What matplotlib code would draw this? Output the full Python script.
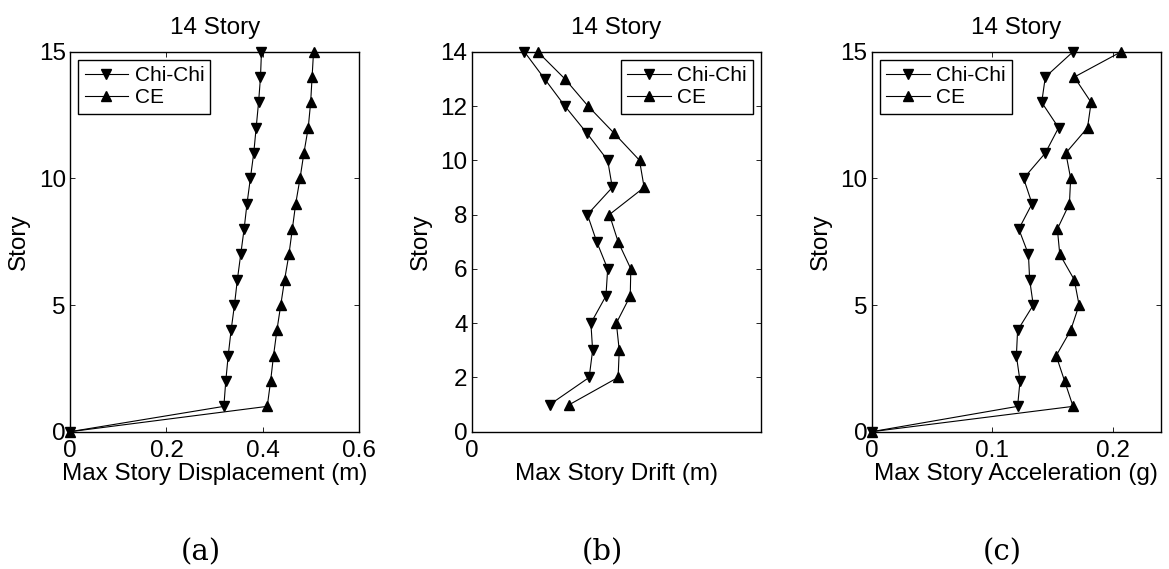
import matplotlib
matplotlib.use("Agg")
import matplotlib.pyplot as plt
from matplotlib.ticker import FuncFormatter

plt.rcParams['font.family'] = ['Liberation Sans', 'DejaVu Sans']
plt.rcParams['font.size'] = 17.5

# Story levels
stories = [0, 1, 2, 3, 4, 5, 6, 7, 8, 9, 10, 11, 12, 13, 14, 15]
drift_stories = [1, 2, 3, 4, 5, 6, 7, 8, 9, 10, 11, 12, 13, 14]

# Max story displacement (m)
disp_chichi = [0, 0.319, 0.323, 0.328, 0.334, 0.341, 0.347, 0.354, 0.361,
               0.367, 0.374, 0.381, 0.386, 0.391, 0.395, 0.397]
disp_ce = [0, 0.409, 0.416, 0.422, 0.429, 0.437, 0.445, 0.454, 0.461,
           0.468, 0.477, 0.485, 0.494, 0.499, 0.502, 0.505]

# Max story drift (m)
drift_chichi = [0.0135, 0.0203, 0.0209, 0.0206, 0.0232, 0.0235, 0.0216,
                0.0200, 0.0243, 0.0235, 0.0199, 0.0161, 0.0126, 0.0091]
drift_ce = [0.0169, 0.0253, 0.0255, 0.0250, 0.0274, 0.0275, 0.0253,
            0.0238, 0.0298, 0.0290, 0.0246, 0.0201, 0.0161, 0.0114]

# Max story acceleration (g)
acc_chichi = [0, 0.121, 0.123, 0.120, 0.121, 0.134, 0.131, 0.130, 0.122,
              0.133, 0.126, 0.144, 0.155, 0.141, 0.144, 0.167]
acc_ce = [0, 0.167, 0.160, 0.153, 0.165, 0.172, 0.168, 0.156, 0.154,
          0.164, 0.165, 0.161, 0.179, 0.182, 0.168, 0.207]

fig = plt.figure(figsize=(11.69, 5.69), dpi=100)

panels = [
    # left, xdata pair, ystories, xlim, xticks, ylim, yticks, xlabel, legend loc, tag
    (0.0599, (disp_chichi, disp_ce), stories, (0, 0.6), [0, 0.2, 0.4, 0.6],
     (0, 15), [0, 5, 10, 15], "Max Story Displacement (m)", "upper left", "(a)"),
    (0.4035, (drift_chichi, drift_ce), drift_stories, (0, 0.05), [0],
     (0, 14), [0, 2, 4, 6, 8, 10, 12, 14], "Max Story Drift (m)", "upper right", "(b)"),
    (0.7457, (acc_chichi, acc_ce), stories, (0, 0.24), [0, 0.1, 0.2],
     (0, 15), [0, 5, 10, 15], "Max Story Acceleration (g)", "upper left", "(c)"),
]

fmt = FuncFormatter(lambda v, p: f"{v:g}")

for left, (xc, xe), ys, xlim, xticks, ylim, yticks, xlabel, loc, tag in panels:
    ax = fig.add_axes([left, 0.2413, 0.2475, 0.6678])
    ax.plot(xc, ys, color="black", lw=0.8, marker="v", ms=7,
            label="Chi-Chi", clip_on=False, zorder=3)
    ax.plot(xe, ys, color="black", lw=0.8, marker="^", ms=7,
            label="CE", clip_on=False, zorder=3)
    ax.set_xlim(*xlim)
    ax.set_ylim(*ylim)
    ax.set_xticks(xticks)
    ax.set_yticks(yticks)
    ax.xaxis.set_major_formatter(fmt)
    ax.yaxis.set_major_formatter(fmt)
    ax.tick_params(direction="in", length=3.5, width=0.6, top=True, right=True,
                   labelsize=17.5)
    ax.tick_params(axis="y", pad=3)
    ax.tick_params(axis="x", pad=6)
    for sp in ax.spines.values():
        sp.set_linewidth(1.0)
    ax.set_title("14 Story", fontsize=17.5, pad=12.5)
    ax.set_ylabel("Story", fontsize=17.5, labelpad=6)
    ax.set_xlabel(xlabel, fontsize=17.5, labelpad=1)
    leg = ax.legend(loc=loc, fontsize=15, fancybox=False, framealpha=1,
                    edgecolor="black", handlelength=2.1, handletextpad=0.3,
                    labelspacing=0.15, borderpad=0.3, borderaxespad=0.4)
    leg.get_frame().set_linewidth(1.0)
    # panel tag under each plot
    cx = left + 0.2475 / 2
    fig.text(cx - 0.012, 0.004, tag, ha="center", va="bottom", fontsize=21,
             family=["DejaVu Serif"])

fig.savefig("out.png", dpi=100)
